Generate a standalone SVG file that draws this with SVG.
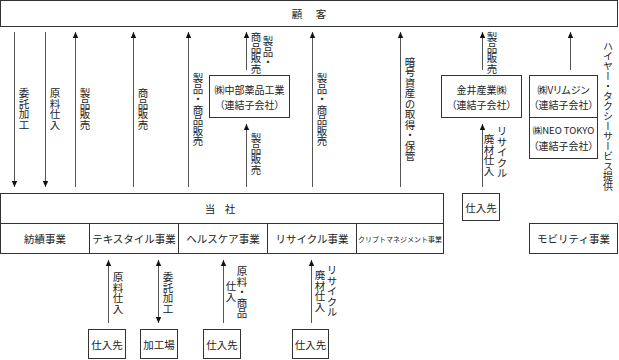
<svg xmlns="http://www.w3.org/2000/svg" width="619" height="360" viewBox="0 0 619 360">
<style>
text{font-family:"Noto Sans CJK JP","Noto Sans CJK SC",sans-serif;font-size:10.5px;fill:#222}
.box{fill:#fff;stroke:#333;stroke-width:1}
.ln{stroke:#555;stroke-width:1;fill:none}
.v{writing-mode:vertical-rl;text-anchor:middle}
.vs{writing-mode:vertical-rl;text-anchor:start}
.c{text-anchor:middle;dominant-baseline:central}
.p{font-feature-settings:"palt";font-size:10px}
.sm{font-size:7px}
</style>
<defs>
<marker id="ah" viewBox="0 0 6 6" refX="6" refY="3" markerWidth="6" markerHeight="6" markerUnits="userSpaceOnUse" orient="auto-start-reverse">
<path d="M0,0.3 L6,3 L0,5.7 z" fill="#111"/>
</marker>
</defs>
<g id="connectors">
<line class="ln" x1="14.5" y1="32" x2="14.5" y2="187" marker-end="url(#ah)"/>
<line class="ln" x1="45.5" y1="32" x2="45.5" y2="187" marker-end="url(#ah)"/>
<line class="ln" x1="75.5" y1="187" x2="75.5" y2="32" marker-end="url(#ah)"/>
<line class="ln" x1="133.5" y1="187" x2="133.5" y2="32" marker-end="url(#ah)"/>
<line class="ln" x1="188.5" y1="187" x2="188.5" y2="32" marker-end="url(#ah)"/>
<line class="ln" x1="246.5" y1="70" x2="246.5" y2="32" marker-end="url(#ah)"/>
<line class="ln" x1="246.5" y1="187" x2="246.5" y2="124" marker-end="url(#ah)"/>
<line class="ln" x1="312.5" y1="187" x2="312.5" y2="32" marker-end="url(#ah)"/>
<line class="ln" x1="400.5" y1="187" x2="400.5" y2="32" marker-end="url(#ah)"/>
<line class="ln" x1="482.5" y1="70" x2="482.5" y2="32" marker-end="url(#ah)"/>
<line class="ln" x1="482.5" y1="187" x2="482.5" y2="124" marker-end="url(#ah)"/>
<line class="ln" x1="570.5" y1="70" x2="570.5" y2="32" marker-end="url(#ah)"/>
<line class="ln" x1="108.5" y1="323" x2="108.5" y2="260" marker-end="url(#ah)"/>
<line class="ln" x1="158.5" y1="260" x2="158.5" y2="323" marker-start="url(#ah)" marker-end="url(#ah)"/>
<line class="ln" x1="223.5" y1="323" x2="223.5" y2="260" marker-end="url(#ah)"/>
<line class="ln" x1="311.5" y1="323" x2="311.5" y2="260" marker-end="url(#ah)"/>
</g>
<g id="labels">
<text class="v" x="24" y="109">委託加工</text>
<text class="v" x="55" y="109">原料仕入</text>
<text class="v" x="85" y="109">製品販売</text>
<text class="v" x="143" y="109">商品販売</text>
<text class="v" x="198" y="110">製品・商品販売</text>
<text class="vs" x="268" y="36">製品・</text>
<text class="vs" x="256" y="32">商品販売</text>
<text class="vs" x="256" y="133">製品販売</text>
<text class="v" x="322" y="110">製品・商品販売</text>
<text class="v" x="410" y="109">暗号資産の取得・保管</text>
<text class="vs" x="492" y="32">製品販売</text>
<text class="vs" x="502" y="126">リサイクル</text>
<text class="vs" x="489" y="134">廃材仕入</text>
<text class="vs" x="608" y="41" style="font-size:10px">ハイヤー・タクシーサービス提供</text>
<text class="vs" x="118" y="272">原料仕入</text>
<text class="vs" x="168" y="272">委託加工</text>
<text class="vs" x="242" y="266">原料・商品</text>
<text class="vs" x="231" y="281">仕入</text>
<text class="vs" x="332" y="265">リサイクル</text>
<text class="vs" x="320" y="270">廃材仕入</text>
</g>
<g id="customer">
<rect class="box" x="0.5" y="0.5" width="617" height="26"/>
<text class="c" x="297" y="13.5">顧</text>
<text class="c" x="321" y="13.5">客</text>
</g>
<g id="chubu">
<rect class="box" x="209.5" y="75.5" width="80" height="42"/>
<text class="c p" x="249.5" y="89">㈱中部薬品工業</text>
<text class="c p" x="249.5" y="104">（連結子会社）</text>
</g>
<g id="kanai">
<rect class="box" x="441.5" y="75.5" width="80" height="42"/>
<text class="c p" x="481.5" y="89">金井産業㈱</text>
<text class="c p" x="481.5" y="104">（連結子会社）</text>
</g>
<g id="vlimousine">
<rect class="box" x="529.5" y="75.5" width="68" height="42"/>
<text class="c p" x="563.5" y="89">㈱Vリムジン</text>
<text class="c p" x="563.5" y="104">（連結子会社）</text>
</g>
<g id="neotokyo">
<rect class="box" x="529.5" y="117.5" width="68" height="41"/>
<text class="c p" x="563.5" y="130" style="font-size:9.5px">㈱NEO TOKYO</text>
<text class="c p" x="563.5" y="145">（連結子会社）</text>
</g>
<g id="kanai-supplier">
<rect class="box" x="462.5" y="193.5" width="37" height="27"/>
<text class="c" x="481" y="207">仕入先</text>
</g>
<g id="company">
<rect class="box" x="0.5" y="193.5" width="443" height="60"/>
<line class="box" x1="0.5" y1="223.5" x2="443.5" y2="223.5"/>
<line class="box" x1="89.5" y1="223.5" x2="89.5" y2="253.5"/>
<line class="box" x1="178.5" y1="223.5" x2="178.5" y2="253.5"/>
<line class="box" x1="267.5" y1="223.5" x2="267.5" y2="253.5"/>
<line class="box" x1="356.5" y1="223.5" x2="356.5" y2="253.5"/>
<text class="c" x="210" y="208">当</text>
<text class="c" x="230" y="208">社</text>
<text class="c" x="45" y="238.5">紡績事業</text>
<text class="c" x="134" y="238.5">テキスタイル事業</text>
<text class="c" x="223" y="238.5">ヘルスケア事業</text>
<text class="c" x="312" y="238.5">リサイクル事業</text>
<text class="c sm" x="400" y="238.5">クリプトマネジメント事業</text>
</g>
<g id="mobility">
<rect class="box" x="529.5" y="223.5" width="88" height="30"/>
<text class="c" x="573.5" y="238.5">モビリティ事業</text>
</g>
<g id="supplier1">
<rect class="box" x="88.5" y="329.5" width="37" height="29"/>
<text class="c" x="107" y="344">仕入先</text>
</g>
<g id="factory">
<rect class="box" x="140.5" y="329.5" width="37" height="29"/>
<text class="c" x="159" y="344">加工場</text>
</g>
<g id="supplier2">
<rect class="box" x="203.5" y="329.5" width="37" height="29"/>
<text class="c" x="222" y="344">仕入先</text>
</g>
<g id="supplier3">
<rect class="box" x="292.5" y="329.5" width="36" height="29"/>
<text class="c" x="310.5" y="344">仕入先</text>
</g>
</svg>
